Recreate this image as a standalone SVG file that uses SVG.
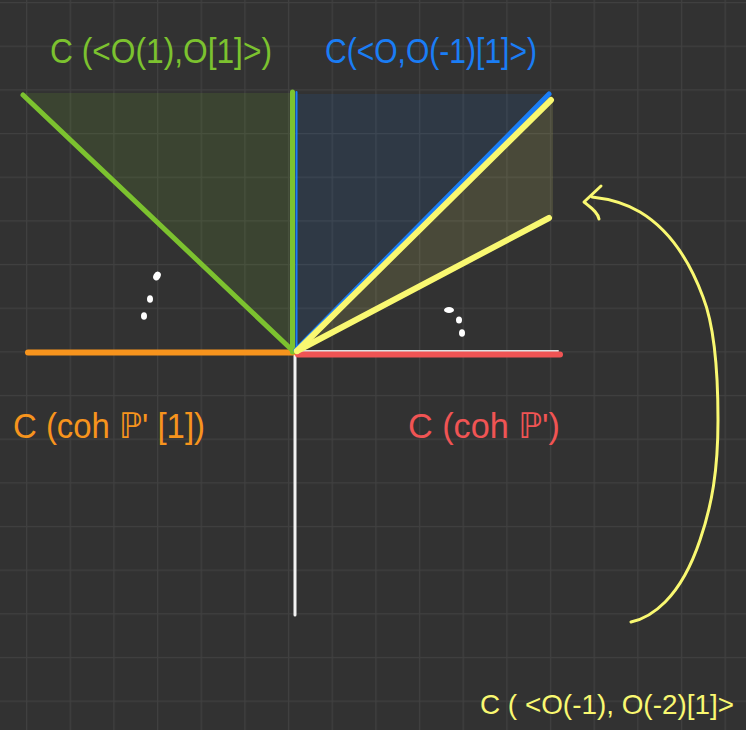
<svg xmlns="http://www.w3.org/2000/svg" width="746" height="730" viewBox="0 0 746 730">
<defs>
<pattern id="grid" x="-17.66" y="2" width="43.66" height="43.66" patternUnits="userSpaceOnUse">
<path d="M0,0 H43.66 M0,0 V43.66" fill="none" stroke="#404040" stroke-width="2.5"/>
</pattern>
</defs>
<style>
.lbl{font-family:"Liberation Sans","DejaVu Sans",sans-serif;font-size:35px}
.ln{fill:none;stroke-linecap:round;stroke-linejoin:round}
.dot{fill:#ffffff}
</style>
<rect width="746" height="730" fill="#323232"/>
<rect width="746" height="730" fill="url(#grid)"/>

<g id="fills">
<polygon points="23,93 292,93 292,352" fill="#7cc22f" fill-opacity="0.13"/>
<polygon points="297,94 550,94 297,352" fill="#1a7df5" fill-opacity="0.1"/>
<polygon points="297,352 553,97 553,218" fill="#f9f871" fill-opacity="0.12"/>
</g>

<g id="axes">
<line class="ln" x1="295" y1="352" x2="295" y2="615" stroke="#f2f2f2" stroke-width="3"/>
<line class="ln" x1="296" y1="351" x2="558" y2="351" stroke="#e0e0e0" stroke-width="2"/>
</g>

<g id="cone-orange">
<line class="ln" x1="28" y1="352.5" x2="293" y2="352.5" stroke="#f7941d" stroke-width="6"/>
<text class="lbl" x="13" y="438" fill="#f7941d" textLength="192" lengthAdjust="spacingAndGlyphs">C (coh ℙ' [1])</text>
</g>

<g id="cone-red">
<line class="ln" x1="298" y1="354.5" x2="560" y2="354.5" stroke="#f05454" stroke-width="6"/>
<text class="lbl" x="408" y="438" fill="#f05454" textLength="152" lengthAdjust="spacingAndGlyphs">C (coh ℙ')</text>
</g>

<g id="cone-green">
<line class="ln" x1="23" y1="95" x2="292" y2="350" stroke="#7cc22f" stroke-width="5"/>
<line class="ln" x1="292.5" y1="92" x2="292.5" y2="352" stroke="#7cc22f" stroke-width="5"/>
<text class="lbl" x="50" y="63" fill="#7cc22f" textLength="222" lengthAdjust="spacingAndGlyphs">C (&lt;O(1),O[1]&gt;)</text>
</g>

<g id="cone-blue">
<line class="ln" x1="296.5" y1="92" x2="296.5" y2="352" stroke="#1a7df5" stroke-width="2"/>
<line class="ln" x1="296" y1="350" x2="549" y2="94" stroke="#1a7df5" stroke-width="5"/>
<text class="lbl" x="325" y="63" fill="#1a7df5" textLength="212" lengthAdjust="spacingAndGlyphs">C(&lt;O,O(-1)[1]&gt;)</text>
</g>

<g id="cone-yellow">
<line class="ln" x1="297" y1="351" x2="551" y2="100" stroke="#f9f871" stroke-width="6"/>
<line class="ln" x1="297" y1="351" x2="549" y2="218" stroke="#f9f871" stroke-width="6"/>
<text class="lbl" x="480" y="714" fill="#f9f871" style="font-size:28px" textLength="254" lengthAdjust="spacingAndGlyphs">C ( &lt;O(-1), O(-2)[1]&gt;</text>
</g>

<g id="dots-left">
<ellipse class="dot" cx="157" cy="276" rx="3.5" ry="4.5" transform="rotate(30 157 276)"/>
<ellipse class="dot" cx="150" cy="299" rx="3" ry="3.8"/>
<ellipse class="dot" cx="144" cy="316" rx="3" ry="3.8"/>
</g>
<g id="dots-right">
<ellipse class="dot" cx="449" cy="310" rx="5" ry="3"/>
<ellipse class="dot" cx="459" cy="320" rx="3" ry="3.5"/>
<ellipse class="dot" cx="462" cy="333" rx="3" ry="3.8"/>
</g>

<g id="connectors">
<path class="ln" d="M631,622 C650,618 680,600 700,540 C712,505 718,470 718,420 C718,380 716,330 703,297 C690,262 670,230 640,212 C625,203 610,199 592,197" stroke="#f9f871" stroke-width="3"/>
<path class="ln" d="M601,186 L584,202 C590,207 598,212 599,219" stroke="#f9f871" stroke-width="3"/>
</g>
</svg>
